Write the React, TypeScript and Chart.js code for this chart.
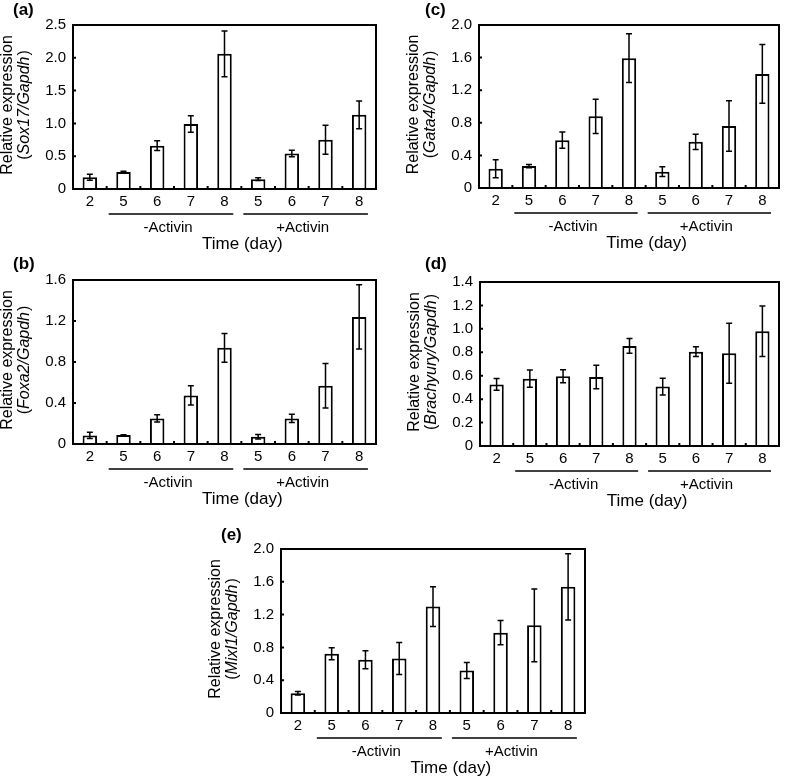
import React, { useEffect, useRef } from "react";
import { Chart, registerables } from "chart.js";

Chart.register(...registerables);

const FONT = "'Liberation Sans', Arial, Helvetica, sans-serif";

// ---------- data ----------
const days = ["2", "5", "6", "7", "8", "5", "6", "7", "8"];
const groupLabels = ["-Activin", "+Activin"];
const xTitle = "Time (day)";
const yTitleLine1 = "Relative expression";

const sox17Mean = [0.18, 0.26, 0.66, 0.99, 2.06, 0.15, 0.54, 0.75, 1.13];
const sox17Err = [0.045, 0.01, 0.075, 0.125, 0.35, 0.02, 0.05, 0.22, 0.21];

const foxa2Mean = [0.084, 0.088, 0.25, 0.474, 0.938, 0.071, 0.25, 0.568, 1.24];
const foxa2Err = [0.03, 0.003, 0.035, 0.094, 0.14, 0.022, 0.04, 0.217, 0.313];

const gata4Mean = [0.236, 0.269, 0.587, 0.88, 1.593, 0.2, 0.566, 0.76, 1.4];
const gata4Err = [0.11, 0.02, 0.1, 0.21, 0.3, 0.06, 0.095, 0.31, 0.36];

const brachyuryMean = [0.526, 0.575, 0.595, 0.589, 0.854, 0.507, 0.805, 0.791, 0.979];
const brachyuryErr = [0.05, 0.074, 0.055, 0.1, 0.063, 0.071, 0.042, 0.256, 0.216];

const mixl1Mean = [0.241, 0.722, 0.649, 0.665, 1.298, 0.518, 0.98, 1.069, 1.539];
const mixl1Err = [0.02, 0.073, 0.11, 0.196, 0.243, 0.098, 0.147, 0.443, 0.404];

// y-axis ranges
const sox17Axis = { max: 2.5, step: 0.5 };
const foxa2Axis = { max: 1.6, step: 0.4 };
const gata4Axis = { max: 2.0, step: 0.4 };
const brachyuryAxis = { max: 1.4, step: 0.2 };
const mixl1Axis = { max: 2.0, step: 0.4 };

// ---------- layout ----------
type Panel = {
  letter: string;
  gene: string;
  mean: number[];
  err: number[];
  axis: { max: number; step: number };
  canvas: { x: number; y: number; w: number; h: number };
  plot: { l: number; t: number; r: number; b: number };
  letterPos: { x: number; y: number };
};

const panels: Panel[] = [
  {
    letter: "(a)", gene: "Sox17/Gapdh", mean: sox17Mean, err: sox17Err, axis: sox17Axis,
    canvas: { x: 0, y: 0, w: 392, h: 258 },
    plot: { l: 73, t: 25, r: 376, b: 189 },
    letterPos: { x: 13, y: 10 },
  },
  {
    letter: "(c)", gene: "Gata4/Gapdh", mean: gata4Mean, err: gata4Err, axis: gata4Axis,
    canvas: { x: 392, y: 0, w: 393, h: 258 },
    plot: { l: 479, t: 25, r: 779, b: 188 },
    letterPos: { x: 425, y: 10 },
  },
  {
    letter: "(b)", gene: "Foxa2/Gapdh", mean: foxa2Mean, err: foxa2Err, axis: foxa2Axis,
    canvas: { x: 0, y: 250, w: 392, h: 270 },
    plot: { l: 73, t: 280, r: 376, b: 444 },
    letterPos: { x: 13, y: 264 },
  },
  {
    letter: "(d)", gene: "Brachyury/Gapdh", mean: brachyuryMean, err: brachyuryErr, axis: brachyuryAxis,
    canvas: { x: 392, y: 250, w: 393, h: 270 },
    plot: { l: 480, t: 282, r: 779, b: 446 },
    letterPos: { x: 425, y: 264 },
  },
  {
    letter: "(e)", gene: "Mixl1/Gapdh", mean: mixl1Mean, err: mixl1Err, axis: mixl1Axis,
    canvas: { x: 190, y: 520, w: 410, h: 256 },
    plot: { l: 281, t: 549, r: 585, b: 713 },
    letterPos: { x: 221, y: 535 },
  },
];

const decorPlugin = {
  id: "decor",
  afterDatasetsDraw(chart: any, _args: any, opts: any) {
    const p: Panel = opts.panel;
    if (!p) return;
    const ctx: CanvasRenderingContext2D = chart.ctx;
    const { left, top, right, bottom } = chart.chartArea;
    const xs = chart.scales.x;
    const ys = chart.scales.y;
    const ox = p.canvas.x;
    const oy = p.canvas.y;
    ctx.save();
    ctx.strokeStyle = "#000";
    ctx.fillStyle = "#000";

    // error bars
    ctx.lineWidth = 1.5;
    p.mean.forEach((m, i) => {
      const cx = xs.getPixelForValue(i);
      const y1 = ys.getPixelForValue(m + p.err[i]);
      const y2 = ys.getPixelForValue(Math.max(0, m - p.err[i]));
      ctx.beginPath();
      ctx.moveTo(cx, y1);
      ctx.lineTo(cx, y2);
      ctx.moveTo(cx - 3, y1);
      ctx.lineTo(cx + 3, y1);
      ctx.moveTo(cx - 3, y2);
      ctx.lineTo(cx + 3, y2);
      ctx.stroke();
    });

    // frame
    ctx.lineWidth = 2;
    ctx.strokeRect(left, top, right - left, bottom - top);

    // inward ticks
    ctx.beginPath();
    for (let i = 0; i < days.length - 1; i++) {
      const bx = xs.getPixelForValue(i + 0.5);
      ctx.moveTo(bx, bottom);
      ctx.lineTo(bx, bottom - 3);
    }
    ys.ticks.forEach((t: any) => {
      const py = ys.getPixelForValue(t.value);
      ctx.moveTo(left, py);
      ctx.lineTo(left + 3, py);
    });
    ctx.stroke();

    // group lines + labels
    const cw = xs.getPixelForValue(1) - xs.getPixelForValue(0);
    const groups = [
      [1, 4],
      [5, 8],
    ];
    ctx.lineWidth = 1.3;
    ctx.font = `15px ${FONT}`;
    ctx.textAlign = "center";
    ctx.textBaseline = "middle";
    groups.forEach(([a, b], gi) => {
      const x1 = xs.getPixelForValue(a) - 0.44 * cw;
      const x2 = xs.getPixelForValue(b) + 0.26 * cw;
      ctx.beginPath();
      ctx.moveTo(x1, bottom + 25);
      ctx.lineTo(x2, bottom + 25);
      ctx.stroke();
      ctx.fillText(groupLabels[gi], (x1 + x2) / 2 - 3, bottom + 38.5);
    });

    // x title
    ctx.font = `17px ${FONT}`;
    ctx.fillText(xTitle, xs.getPixelForValue(4.5) + 1, bottom + 55);

    // y title (two lines, second with italic gene names)
    const midY = (top + bottom) / 2 - 2;
    ctx.save();
    ctx.translate(left - 65, midY);
    ctx.rotate(-Math.PI / 2);
    ctx.font = `16px ${FONT}`;
    ctx.textAlign = "center";
    ctx.fillText(yTitleLine1, 0, 0);
    ctx.restore();

    ctx.save();
    ctx.translate(left - 48, midY);
    ctx.rotate(-Math.PI / 2);
    ctx.textAlign = "left";
    const normal = `16px ${FONT}`;
    const italic = `italic 16px ${FONT}`;
    ctx.font = normal;
    const wOpen = ctx.measureText("(").width;
    const wClose = ctx.measureText(")").width;
    ctx.font = italic;
    const wGene = ctx.measureText(p.gene).width;
    const total = wOpen + wGene + wClose + 1;
    let xPos = -total / 2;
    ctx.font = normal;
    ctx.fillText("(", xPos, 0);
    xPos += wOpen;
    ctx.font = italic;
    ctx.fillText(p.gene, xPos, 0);
    xPos += wGene + 1;
    ctx.font = normal;
    ctx.fillText(")", xPos, 0);
    ctx.restore();

    // panel letter
    ctx.font = `bold 17px ${FONT}`;
    ctx.textAlign = "left";
    ctx.textBaseline = "middle";
    ctx.fillText(p.letter, p.letterPos.x - ox, p.letterPos.y - oy);

    ctx.restore();
  },
};

function PanelChart({ panel }: { panel: Panel }) {
  const ref = useRef<HTMLCanvasElement | null>(null);
  useEffect(() => {
    if (!ref.current) return;
    const c = panel.canvas;
    const pl = panel.plot;
    const chart = new Chart(ref.current, {
      type: "bar",
      data: {
        labels: days,
        datasets: [
          {
            data: panel.mean,
            backgroundColor: "#ffffff",
            borderColor: "#000000",
            borderWidth: 2,
            barPercentage: 0.43,
            categoryPercentage: 1,
          },
        ],
      },
      options: {
        responsive: false,
        animation: false,
        events: [],
        layout: {
          padding: {
            left: 0,
            top: pl.t - c.y,
            right: c.x + c.w - pl.r,
            bottom: 0,
          },
        },
        plugins: {
          legend: { display: false },
          tooltip: { enabled: false },
          title: { display: false },
          decor: { panel },
        } as any,
        scales: {
          x: {
            type: "category",
            offset: true,
            grid: { display: false, drawTicks: false },
            border: { display: false },
            ticks: {
              color: "#000",
              font: { family: FONT, size: 15 },
              padding: 4,
              maxRotation: 0,
              autoSkip: false,
            },
            afterFit: (s: any) => {
              s.height = c.y + c.h - pl.b;
            },
          },
          y: {
            type: "linear",
            min: 0,
            max: panel.axis.max,
            grid: { display: false, drawTicks: false },
            border: { display: false },
            ticks: {
              stepSize: panel.axis.step,
              color: "#000",
              font: { family: FONT, size: 15 },
              padding: 7,
              callback: (v: any) => (Number(v) === 0 ? "0" : Number(v).toFixed(1)),
            },
            afterFit: (s: any) => {
              s.width = pl.l - c.x;
            },
          },
        },
      },
      plugins: [decorPlugin],
    });
    return () => chart.destroy();
  }, [panel]);
  return (
    <canvas
      ref={ref}
      width={panel.canvas.w}
      height={panel.canvas.h}
      style={{
        position: "absolute",
        left: panel.canvas.x,
        top: panel.canvas.y,
        width: panel.canvas.w,
        height: panel.canvas.h,
      }}
    />
  );
}

export default function App() {
  return (
    <div
      style={{
        position: "absolute",
        left: 0,
        top: 0,
        width: 785,
        height: 776,
        background: "#fff",
        overflow: "hidden",
      }}
    >
      {panels.map((p) => (
        <PanelChart key={p.letter} panel={p} />
      ))}
    </div>
  );
}
